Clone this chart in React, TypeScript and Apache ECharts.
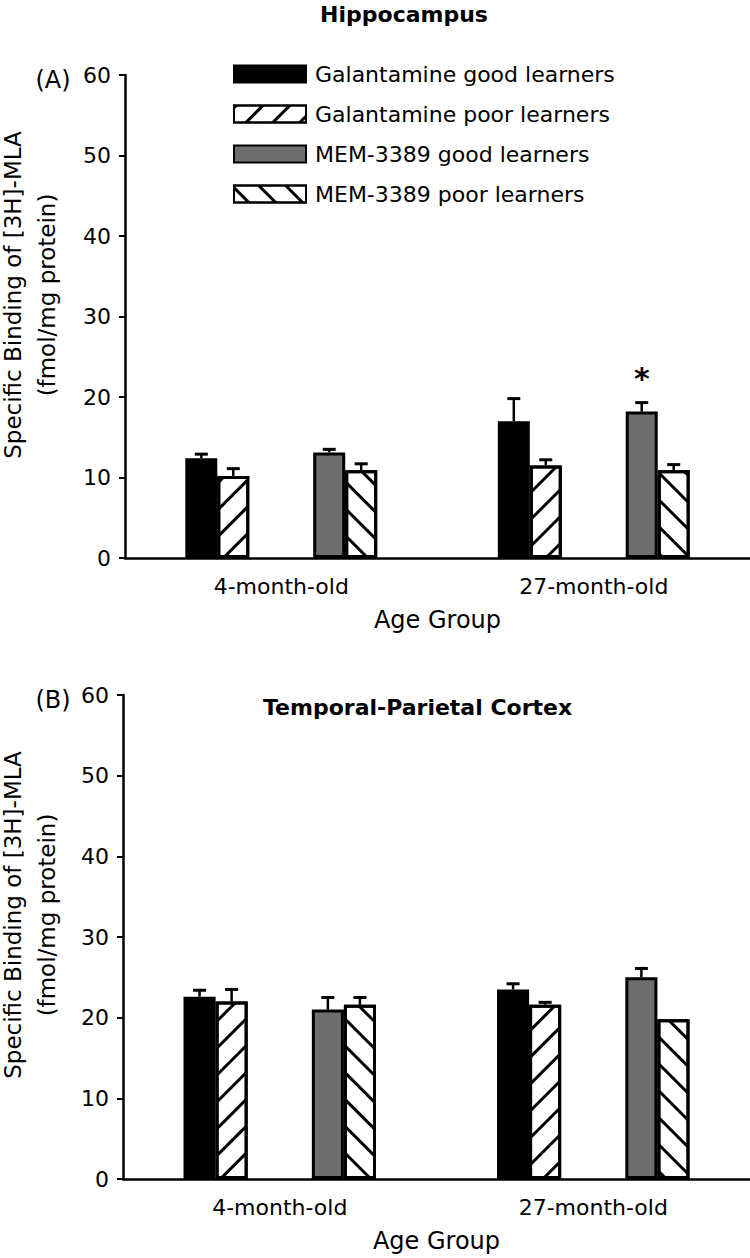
import React, { useEffect, useRef } from 'react';
import * as echarts from 'echarts';

const categories = ['4-month-old', '27-month-old'];
const legendNames = [
  'Galantamine good learners',
  'Galantamine poor learners',
  'MEM-3389 good learners',
  'MEM-3389 poor learners',
];
const yTicks = [0, 10, 20, 30, 40, 50, 60];

// Panel A: Hippocampus
const hipGalGood = [12.4, 17.0];
const hipGalGoodErr = [0.5, 2.8];
const hipGalPoor = [10.2, 11.5];
const hipGalPoorErr = [0.9, 0.7];
const hipMemGood = [13.1, 18.2];
const hipMemGoodErr = [0.4, 1.1];
const hipMemPoor = [10.9, 10.9];
const hipMemPoorErr = [0.8, 0.7];
const hipMemGoodSignificant = [false, true];

// Panel B: Temporal-Parietal Cortex
const tpcGalGood = [22.6, 23.5];
const tpcGalGoodErr = [0.8, 0.7];
const tpcGalPoor = [22.0, 21.6];
const tpcGalPoorErr = [1.5, 0.3];
const tpcMemGood = [21.0, 25.0];
const tpcMemGoodErr = [1.5, 1.1];
const tpcMemPoor = [21.6, 19.8];
const tpcMemPoorErr = [0.9, 0];

const FONT = 'DejaVu Sans';
const GAP = 0.386;
const SLOTS = 6;

const hatchUp = {
  symbol: 'rect',
  symbolSize: 1,
  color: '#000',
  backgroundColor: '#fff',
  dashArrayX: [1, 0],
  dashArrayY: [3, 16],
  rotation: -Math.PI / 4,
};
const hatchDown = { ...hatchUp, rotation: Math.PI / 4 };

const BW = 3;
const styles = [
  { color: '#000', borderColor: '#000', borderWidth: BW },
  { color: '#fff', borderColor: '#000', borderWidth: BW, decal: hatchUp },
  { color: '#6e6e6e', borderColor: '#000', borderWidth: BW },
  { color: '#fff', borderColor: '#000', borderWidth: BW, decal: hatchDown },
];
const slotOf = [0, 1, 4, 5];

function errRender(params: any, api: any) {
  const cat = api.value(0);
  const val = api.value(1);
  const err = api.value(2);
  const slot = api.value(3);
  if (!err) return null;
  const band = api.size([1, 0])[0];
  const bw = (band * (1 - GAP)) / SLOTS;
  const cx = api.coord([cat, 0])[0] + (slot - (SLOTS - 1) / 2) * bw;
  const yBar = api.coord([cat, val])[1];
  const yTop = api.coord([cat, val + err])[1];
  return {
    type: 'group',
    children: [
      { type: 'line', shape: { x1: cx, y1: yBar, x2: cx, y2: yTop }, style: { stroke: '#000', lineWidth: 2.5 } },
      { type: 'line', shape: { x1: cx - 6.5, y1: yTop, x2: cx + 6.5, y2: yTop }, style: { stroke: '#000', lineWidth: 3 } },
    ],
  };
}

function panelSeries(axisIdx: number, vals: number[][], errs: number[][], sig?: boolean[]) {
  const out: any[] = [];
  const order = [0, 1, -1, -2, 2, 3];
  order.forEach((k) => {
    if (k < 0) {
      out.push({
        type: 'bar',
        name: 'placeholder' + k,
        xAxisIndex: axisIdx,
        yAxisIndex: axisIdx,
        data: categories.map(() => '-'),
        barGap: '0%',
        barCategoryGap: GAP * 100 + '%',
        silent: true,
      });
      return;
    }
    out.push({
      type: 'bar',
      name: legendNames[k],
      xAxisIndex: axisIdx,
      yAxisIndex: axisIdx,
      barGap: '0%',
      barCategoryGap: GAP * 100 + '%',
      itemStyle: styles[k],
      data: vals[k].map((v, i) =>
        k === 2 && sig && sig[i]
          ? {
              value: v,
              label: {
                show: true,
                position: 'top',
                formatter: '*',
                distance: 8,
                fontSize: 30,
                fontWeight: 'bold',
                fontFamily: FONT,
                color: '#000',
                offset: [0, -10],
              },
            }
          : v
      ),
    });
  });
  const errData: number[][] = [];
  [0, 1, 2, 3].forEach((k) => {
    vals[k].forEach((v, i) => errData.push([i, v, errs[k][i], slotOf[k]]));
  });
  out.push({
    type: 'custom',
    name: 'err' + axisIdx,
    xAxisIndex: axisIdx,
    yAxisIndex: axisIdx,
    renderItem: errRender,
    data: errData,
    encode: { x: 0, y: 1 },
    z: 5,
    silent: true,
  });
  return out;
}

function xAxisCfg(gridIndex: number) {
  return {
    type: 'category',
    gridIndex,
    data: categories,
    axisLine: { lineStyle: { color: '#000', width: 2.5 } },
    axisTick: { alignWithLabel: true, length: 7, lineStyle: { color: '#000', width: 2 } },
    axisLabel: { fontSize: 22, fontFamily: FONT, color: '#000', margin: 17 },
    name: 'Age Group',
    nameLocation: 'middle',
    nameGap: 50,
    nameTextStyle: { fontSize: 24, fontFamily: FONT, color: '#000' },
  };
}

function yAxisCfg(gridIndex: number) {
  return {
    type: 'value',
    gridIndex,
    min: yTicks[0],
    max: yTicks[yTicks.length - 1],
    interval: 10,
    axisLine: { show: true, lineStyle: { color: '#000', width: 2.5 } },
    axisTick: { show: true, inside: false, length: 6, lineStyle: { color: '#000', width: 2 } },
    axisLabel: { fontSize: 22, fontFamily: FONT, color: '#000', margin: 14 },
    splitLine: { show: false },
  };
}

const yName = 'Specific Binding of [3H]-MLA\n(fmol/mg protein)';

export default function App() {
  const ref = useRef<HTMLDivElement>(null);
  useEffect(() => {
    if (!ref.current) return;
    const chart = echarts.init(ref.current, undefined, { renderer: 'svg' });
    const vA = [hipGalGood, hipGalPoor, hipMemGood, hipMemPoor];
    const eA = [hipGalGoodErr, hipGalPoorErr, hipMemGoodErr, hipMemPoorErr];
    const vB = [tpcGalGood, tpcGalPoor, tpcMemGood, tpcMemPoor];
    const eB = [tpcGalGoodErr, tpcGalPoorErr, tpcMemGoodErr, tpcMemPoorErr];
    chart.setOption({
      animation: false,
      backgroundColor: '#fff',
      grid: [
        { left: 125, right: 0, top: 75, height: 483 },
        { left: 123, right: 0, top: 695, height: 484 },
      ],
      xAxis: [xAxisCfg(0), xAxisCfg(1)],
      yAxis: [yAxisCfg(0), yAxisCfg(1)],
      legend: {
        data: legendNames,
        orient: 'vertical',
        left: 228,
        top: 58,
        itemWidth: 72,
        itemHeight: 17,
        itemGap: 18,
        icon: 'rect',
        textStyle: { fontSize: 22, fontFamily: FONT, color: '#000', lineHeight: 22, padding: [0, 0, 0, 4] },
        selectedMode: false,
      },
      graphic: [
        {
          type: 'text',
          x: 404,
          y: 14,
          style: { text: 'Hippocampus', font: `bold 22px "${FONT}"`, fill: '#000', align: 'center', verticalAlign: 'middle' },
        },
        {
          type: 'text',
          x: 263,
          y: 707,
          style: { text: 'Temporal-Parietal Cortex', font: `bold 22px "${FONT}"`, fill: '#000', align: 'left', verticalAlign: 'middle' },
        },
        {
          type: 'text',
          x: 53,
          y: 80,
          style: { text: '(A)', font: `24px "${FONT}"`, fill: '#000', align: 'center', verticalAlign: 'middle' },
        },
        {
          type: 'text',
          x: 53,
          y: 700,
          style: { text: '(B)', font: `24px "${FONT}"`, fill: '#000', align: 'center', verticalAlign: 'middle' },
        },
        {
          type: 'text',
          x: 30,
          y: 295,
          rotation: Math.PI / 2,
          style: { text: yName, font: `23px "${FONT}"`, fill: '#000', align: 'center', verticalAlign: 'middle', lineHeight: 34 },
        },
        {
          type: 'text',
          x: 30,
          y: 915,
          rotation: Math.PI / 2,
          style: { text: yName, font: `23px "${FONT}"`, fill: '#000', align: 'center', verticalAlign: 'middle', lineHeight: 34 },
        },
      ],
      series: [
        ...panelSeries(0, vA, eA, hipMemGoodSignificant),
        ...panelSeries(1, vB, eB),
      ],
    });
    return () => chart.dispose();
  }, []);
  return (
    <div
      ref={ref}
      style={{ position: 'absolute', left: 0, top: 0, width: 750, height: 1258 }}
    />
  );
}
